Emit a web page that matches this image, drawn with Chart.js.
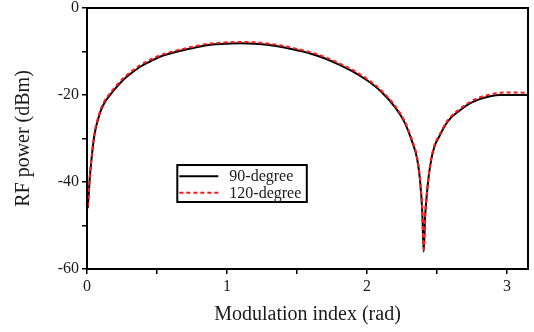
<!DOCTYPE html>
<html>
<head>
<meta charset="utf-8">
<script src="https://cdn.jsdelivr.net/npm/chart.js@4.4.1/dist/chart.umd.min.js"></script>
<style>
  html, body { margin: 0; padding: 0; background: #fff; }
  #wrap { width: 534px; height: 332px; }
</style>
</head>
<body>
<div id="wrap"><canvas id="rfChart" width="534" height="332"></canvas></div>
<script>
// modulation index (rad) and RF power (dBm)
const modIndex = [0.005, 0.01, 0.02, 0.03, 0.045, 0.06, 0.08, 0.1, 0.13, 0.16, 0.2, 0.26, 0.32, 0.38, 0.45,
    0.52, 0.6, 0.7, 0.8, 0.9, 1.0, 1.1, 1.2, 1.3, 1.4, 1.5, 1.6, 1.7, 1.8, 1.9, 2.0, 2.1, 2.2, 2.27, 2.32,
    2.36, 2.38, 2.395, 2.405, 2.415, 2.43, 2.45, 2.48, 2.52, 2.56, 2.6, 2.66, 2.72, 2.8, 2.88, 2.95, 3.05, 3.15];
const power90 = [-46, -44, -39, -35.5, -31, -28, -25.5, -23.5, -21.5, -20.2, -18.6, -16.5, -14.9, -13.5, -12.3,
    -11.2, -10.4, -9.6, -8.9, -8.4, -8.2, -8.1, -8.2, -8.5, -9.0, -9.7, -10.5, -11.6, -13.0, -14.6, -16.6, -19.2, -22.8, -26.4, -30.5,
    -35, -40, -47, -56, -48, -42, -36.5, -32, -29.3, -26.9, -25.2, -23.6, -22.2, -21, -20.3, -20, -20, -20];
const power120 = [-45.5, -43.5, -38.6, -35.1, -30.6, -27.6, -25.1, -23.1, -21.1, -19.8, -18.2, -16.1, -14.5, -13.1, -11.9,
    -10.9, -10.1, -9.3, -8.6, -8.1, -7.9, -7.8, -7.9, -8.2, -8.7, -9.4, -10.2, -11.3, -12.7, -14.3, -16.3, -18.9, -22.5, -26.1, -30.2,
    -34.7, -39.7, -46.8, -55.5, -47.8, -41.7, -36.2, -31.7, -29, -26.6, -24.9, -23.3, -21.9, -20.6, -19.9, -19.5, -19.4, -19.5];
const seriesNames = ['90-degree', '120-degree'];

const serif = "'Liberation Serif', 'DejaVu Serif', serif";
const textColor = '#1a1a1a';

const toPoints = ys => modIndex.map((x, i) => ({ x: x, y: ys[i] }));

// box around the plot + in-plot legend
const frameAndLegend = {
    id: 'frameAndLegend',
    afterDatasetsDraw(chart) {
        const { ctx, chartArea, scales } = chart;
        ctx.save();
        ctx.strokeStyle = '#000';
        ctx.lineWidth = 2;
        ctx.strokeRect(chartArea.left, chartArea.top, chartArea.right - chartArea.left, chartArea.bottom - chartArea.top);

        const x0 = scales.x.getPixelForValue(0.645);
        const x1 = scales.x.getPixelForValue(1.57);
        const y0 = scales.y.getPixelForValue(-36.1);
        const y1 = scales.y.getPixelForValue(-44.6);
        ctx.fillStyle = '#fff';
        ctx.fillRect(x0, y0, x1 - x0, y1 - y0);
        ctx.strokeRect(x0, y0, x1 - x0, y1 - y0);

        const rows = [y0 + (y1 - y0) * 0.3, y0 + (y1 - y0) * 0.75];
        chart.data.datasets.forEach((ds, i) => {
            ctx.beginPath();
            ctx.strokeStyle = ds.borderColor;
            ctx.lineWidth = 2;
            ctx.setLineDash(ds.borderDash || []);
            ctx.moveTo(x0 + 2, rows[i]);
            ctx.lineTo(x0 + 41, rows[i]);
            ctx.stroke();
            ctx.setLineDash([]);
            ctx.fillStyle = textColor;
            ctx.font = '16px ' + serif;
            ctx.textBaseline = 'middle';
            ctx.fillText(ds.label, x0 + 52, rows[i] + 1);
        });
        ctx.restore();
    }
};

new Chart(document.getElementById('rfChart').getContext('2d'), {
    type: 'line',
    data: {
        datasets: [{
            label: seriesNames[0],
            data: toPoints(power90),
            borderColor: '#000000',
            borderWidth: 2,
            pointRadius: 0,
            cubicInterpolationMode: 'monotone',
            order: 1
        }, {
            label: seriesNames[1],
            data: toPoints(power120),
            borderColor: '#ff1a1a',
            borderWidth: 2,
            borderDash: [4, 3],
            pointRadius: 0,
            cubicInterpolationMode: 'monotone',
            order: 0
        }]
    },
    options: {
        responsive: false,
        animation: false,
        layout: { padding: { top: 8, right: 6, left: 0, bottom: 0 } },
        plugins: {
            legend: { display: false },
            tooltip: { enabled: false }
        },
        scales: {
            x: {
                type: 'linear',
                min: 0,
                max: 3.15,
                afterFit: scale => { scale.height = 63; scale.paddingLeft = 0; scale.paddingRight = 0; },
                afterBuildTicks: scale => {
                    scale.ticks = [0, 0.5, 1, 1.5, 2, 2.5, 3].map(v => ({ value: v }));
                },
                ticks: {
                    color: textColor,
                    font: { family: serif, size: 16 },
                    padding: 3,
                    maxRotation: 0,
                    autoSkip: false,
                    callback: v => Number.isInteger(v) ? String(v) : ''
                },
                grid: { drawOnChartArea: false, drawTicks: true, tickLength: 5, color: '#000', lineWidth: 1.5 },
                border: { display: true, color: '#000', width: 2 },
                title: {
                    display: true,
                    text: 'Modulation index (rad)',
                    color: textColor,
                    font: { family: serif, size: 20 },
                    padding: { top: 4, bottom: 5 }
                }
            },
            y: {
                type: 'linear',
                min: -60,
                max: 0,
                afterFit: scale => { scale.width = 87; scale.paddingTop = 0; scale.paddingBottom = 0; },
                ticks: {
                    stepSize: 10,
                    color: textColor,
                    font: { family: serif, size: 16 },
                    padding: 3,
                    callback: v => v % 20 === 0 ? String(v) : ''
                },
                grid: { drawOnChartArea: false, drawTicks: true, tickLength: 5, color: '#000', lineWidth: 1.5 },
                border: { display: true, color: '#000', width: 2 },
                title: {
                    display: true,
                    text: 'RF power (dBm)',
                    color: textColor,
                    font: { family: serif, size: 20 },
                    padding: { top: 12, bottom: 0 }
                }
            }
        }
    },
    plugins: [frameAndLegend]
});
</script>
</body>
</html>
